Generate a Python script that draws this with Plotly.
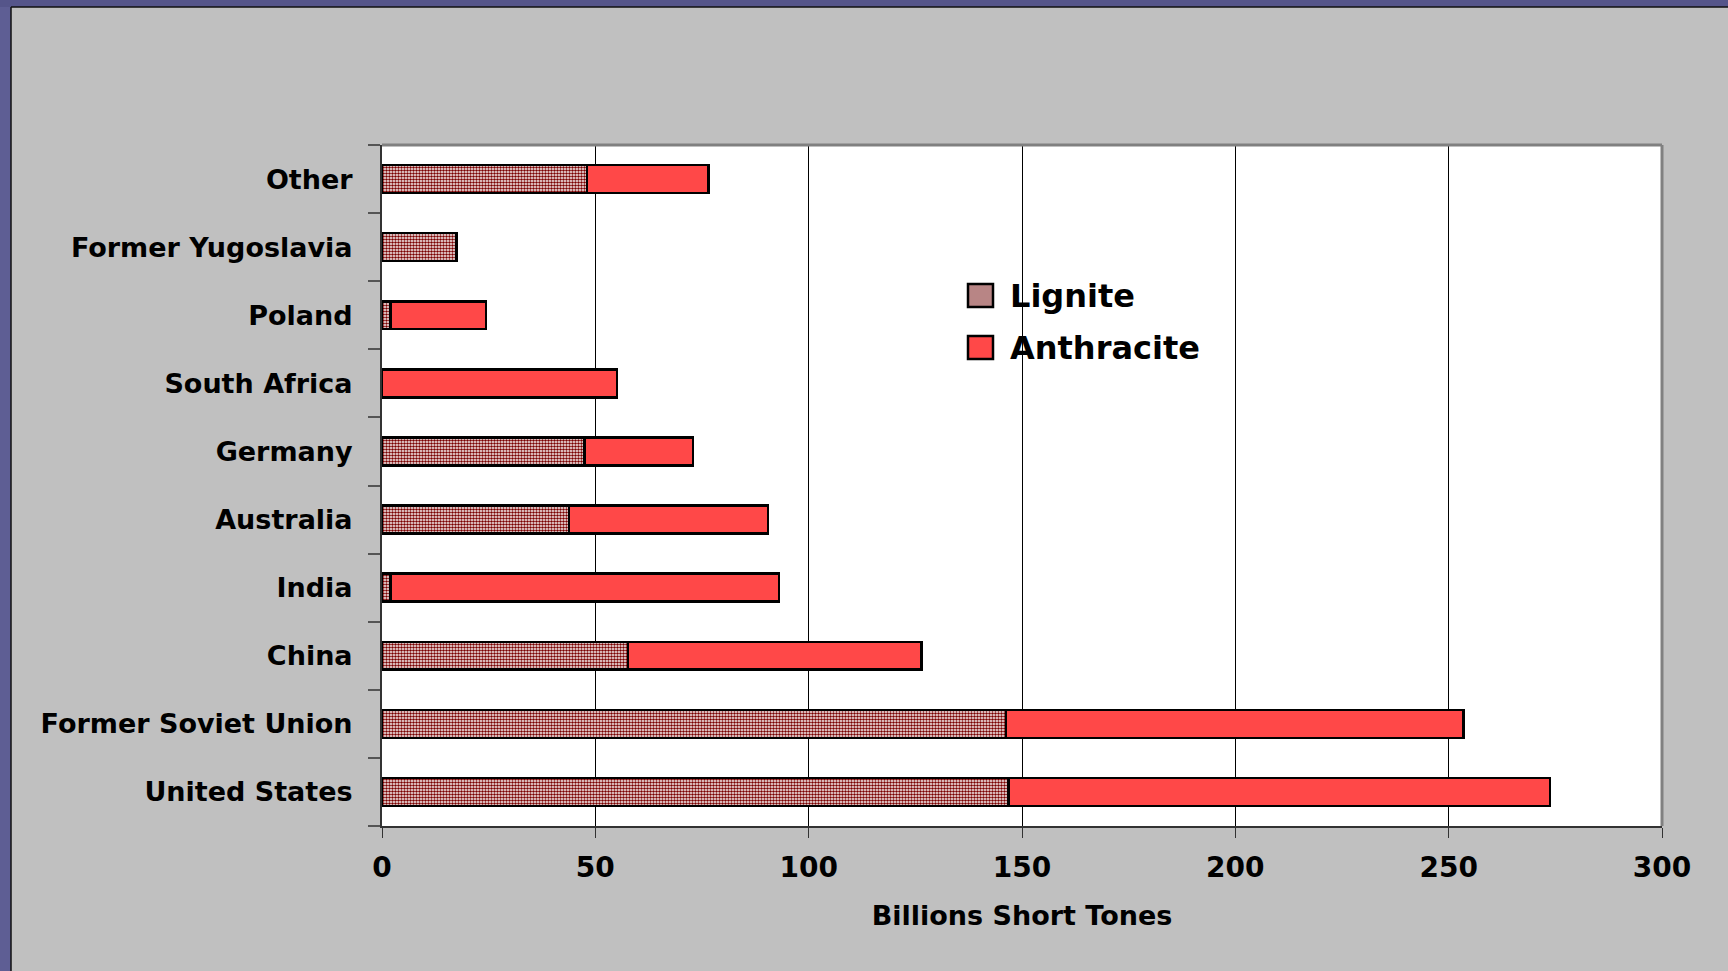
import plotly.graph_objects as go

# Recoverable coal reserves by country (billions of short tons)
countries = ["United States", "Former Soviet Union", "China", "India", "Australia",
             "Germany", "South Africa", "Poland", "Former Yugoslavia", "Other"]
lignite = [146.8, 146.2, 57.7, 2.0, 43.8, 47.5, 0.0, 2.0, 17.5, 48.0]
anthracite = [127.0, 107.3, 68.7, 91.1, 46.7, 25.4, 55.1, 22.4, 0.0, 28.5]
x_ticks = [0, 50, 100, 150, 200, 250, 300]

W, H = 1728, 971
L, R, T, B = 382, 1662, 145, 826   # plot-area edges in pixels
FONT = "DejaVu Sans, Verdana, sans-serif"


def px_x(p):
    return (p - L) / (R - L)


def px_y(p):
    return (B - p) / (B - T)


fig = go.Figure()
fig.add_trace(go.Bar(
    y=countries, x=lignite, orientation="h", name="Lignite",
    marker=dict(color="white",
                pattern=dict(shape=".", fgcolor="#7a0000", bgcolor="#ffffff",
                             size=3, solidity=0.55, fillmode="replace"),
                line=dict(color="black", width=2.5)),
    showlegend=False,
))
fig.add_trace(go.Bar(
    y=countries, x=anthracite, orientation="h", name="Anthracite",
    marker=dict(color="#FF4848", line=dict(color="black", width=2.5)),
    showlegend=False,
))

shapes = []
# purple frame on the left and top edges of the slide
shapes.append(dict(type="rect", xref="paper", yref="paper", layer="below",
                   x0=px_x(0), x1=px_x(11), y0=px_y(H + 5), y1=px_y(-5),
                   fillcolor="#5E5E94", line=dict(width=0)))
shapes.append(dict(type="rect", xref="paper", yref="paper", layer="below",
                   x0=px_x(0), x1=px_x(W + 5), y0=px_y(7), y1=px_y(-5),
                   fillcolor="#55558A", line=dict(width=0)))
shapes.append(dict(type="line", xref="paper", yref="paper", layer="below",
                   x0=px_x(11), x1=px_x(11), y0=px_y(H + 5), y1=px_y(7),
                   line=dict(color="#111111", width=1.5)))
shapes.append(dict(type="line", xref="paper", yref="paper", layer="below",
                   x0=px_x(11), x1=px_x(W + 5), y0=px_y(7), y1=px_y(7),
                   line=dict(color="#111111", width=1.5)))
# gray border on top and right of the plot area
shapes.append(dict(type="line", xref="paper", yref="paper",
                   x0=0, x1=1, y0=1, y1=1, line=dict(color="#808080", width=3)))
shapes.append(dict(type="line", xref="paper", yref="paper",
                   x0=1, x1=1, y0=0, y1=1, line=dict(color="#808080", width=3)))

# legend swatches
shapes.append(dict(type="rect", xref="paper", yref="paper",
                   x0=px_x(968), x1=px_x(993), y0=px_y(307), y1=px_y(284),
                   fillcolor="#B88585", line=dict(color="black", width=2.5)))
shapes.append(dict(type="rect", xref="paper", yref="paper",
                   x0=px_x(968), x1=px_x(993), y0=px_y(359), y1=px_y(336),
                   fillcolor="#FF4848", line=dict(color="black", width=2.5)))

annotations = [
    dict(text="<b>Lignite</b>", xref="paper", yref="paper", x=px_x(1008), y=px_y(296),
         xanchor="left", yanchor="middle", showarrow=False,
         font=dict(family=FONT, size=32, color="black")),
    dict(text="<b>Anthracite</b>", xref="paper", yref="paper", x=px_x(1008), y=px_y(348),
         xanchor="left", yanchor="middle", showarrow=False,
         font=dict(family=FONT, size=32, color="black")),
]

fig.update_layout(
    width=W, height=H,
    margin=dict(l=L, r=W - R, t=T, b=H - B, autoexpand=False),
    barmode="stack", bargap=0.59,
    paper_bgcolor="#C0C0C0", plot_bgcolor="white",
    shapes=shapes, annotations=annotations,
    xaxis=dict(range=[0, 300], tickvals=x_ticks, ticktext=[str(v) for v in x_ticks],
               showgrid=True, gridcolor="#000000", gridwidth=1,
               showline=True, linecolor="#333333", linewidth=2,
               ticks="outside", ticklen=10, tickcolor="#333333", tickwidth=1,
               tickfont=dict(family=FONT, size=28, color="black", weight="bold"),
               ticklabelstandoff=5, zeroline=False,
               title=dict(text="<b>Billions Short Tones</b>", standoff=24,
                          font=dict(family=FONT, size=27, color="black"))),
    yaxis=dict(type="category", categoryorder="array", categoryarray=countries,
               showline=True, linecolor="#333333", linewidth=2,
               ticks="outside", ticklen=12, tickcolor="#555555", tickwidth=2,
               tickson="boundaries", showgrid=False,
               tickfont=dict(family=FONT, size=27, color="black", weight="bold"),
               ticklabelstandoff=22),
)

fig.write_html("out.html")
